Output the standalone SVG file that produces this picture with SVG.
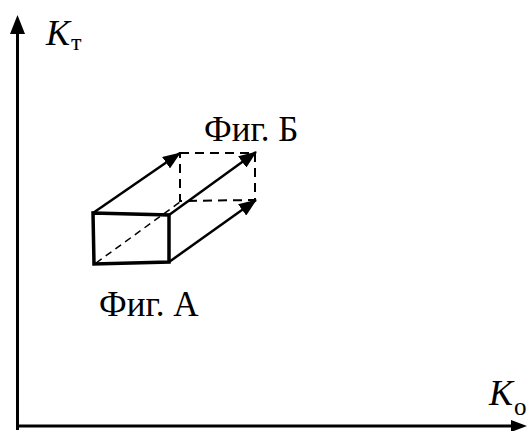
<svg xmlns="http://www.w3.org/2000/svg" width="528" height="431" viewBox="0 0 528 431">
<defs>
<style>
.ax{stroke:#000;stroke-width:3;fill:none}
.ln{stroke:#000;stroke-width:2.5;fill:none}
.th{stroke:#000;stroke-width:3.5;fill:none}
.ds{stroke:#000;stroke-width:2;fill:none;stroke-dasharray:9,6}
.dt{stroke:#000;stroke-width:1.5;fill:none;stroke-dasharray:7,5}
.t{font-family:"Liberation Serif","Times New Roman",serif;fill:#000}
.k{font-style:italic}
</style>
<marker id="ab" markerWidth="18" markerHeight="14" refX="17" refY="7" orient="auto" markerUnits="userSpaceOnUse" viewBox="0 0 18 14">
<path d="M0,0 L18,7 L0,14 Z" fill="#000"/>
</marker>
</defs>
<g id="axes">
<line class="ax" x1="17.5" y1="430" x2="17.5" y2="32"/>
<path d="M17.5,15 L10,34 L25,34 Z" fill="#000"/>
<line class="ax" x1="16" y1="426" x2="514" y2="426"/>
<path d="M527,426 L511,420 L511,432 Z" fill="#000"/>
</g>
<g id="fig-a">
<path class="th" d="M93,213 L169,215 L169,262 L94,264 Z"/>
<line class="dt" x1="96" y1="263" x2="180" y2="202"/>
</g>
<g id="fig-b">
<path class="ds" d="M180,153 L255,153 L255,200 L180,201 Z"/>
</g>
<g id="connectors">
<line class="ln" x1="93" y1="213" x2="180" y2="153" marker-end="url(#ab)"/>
<line class="ln" x1="169" y1="215" x2="256" y2="152" marker-end="url(#ab)"/>
<line class="ln" x1="169" y1="262" x2="256" y2="200" marker-end="url(#ab)"/>
</g>
<g id="labels">
<text class="t" x="46" y="45" font-size="36"><tspan class="k">K</tspan><tspan font-size="24" dx="1" dy="5">т</tspan></text>
<text class="t" x="489" y="405" font-size="36"><tspan class="k">K</tspan><tspan font-size="25" dx="1" dy="10">о</tspan></text>
<text class="t" x="204" y="141" font-size="35">Фиг. Б</text>
<text class="t" x="99" y="316" font-size="35">Фиг. А</text>
</g>
</svg>
